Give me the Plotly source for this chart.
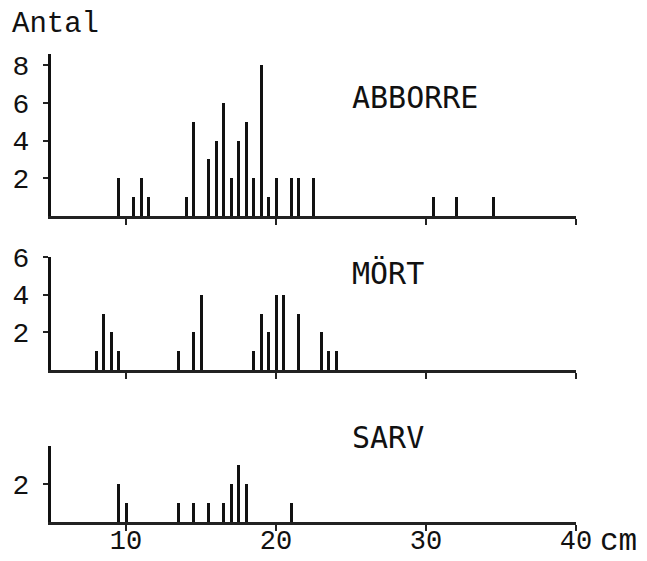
import plotly.graph_objects as go
from plotly.subplots import make_subplots

# ABBORRE (perch): length (cm) and count
abborre_len = [9.5, 10.5, 11, 11.5, 14, 14.5, 15.5, 16, 16.5, 17, 17.5, 18, 18.5, 19, 19.5, 20, 21, 21.5, 22.5, 30.5, 32, 34.5]
abborre_cnt = [2, 1, 2, 1, 1, 5, 3, 4, 6, 2, 4, 5, 2, 8, 1, 2, 2, 2, 2, 1, 1, 1]

# MÖRT (roach)
mort_len = [8, 8.5, 9, 9.5, 13.5, 14.5, 15, 18.5, 19, 19.5, 20, 20.5, 21.5, 23, 23.5, 24]
mort_cnt = [1, 3, 2, 1, 1, 2, 4, 1, 3, 2, 4, 4, 3, 2, 1, 1]

# SARV (rudd)
sarv_len = [9.5, 10, 13.5, 14.5, 15.5, 16.5, 17, 17.5, 18, 21]
sarv_cnt = [2, 1, 1, 1, 1, 1, 2, 3, 2, 1]

species = ["ABBORRE", "MÖRT", "SARV"]
x_ticks = [10, 20, 30, 40]
y_ticks = [[2, 4, 6, 8], [2, 4, 6], [2]]
y_ranges = [[0, 8.6], [0, 6], [0, 4]]

W, H = 647, 561
ML, MR, MT, MB = 51, 71, 54, 39
PH = H - MT - MB
PW = W - ML - MR

def py(p):
    return (H - MB - p) / PH

def px(p):
    return (p - ML) / PW

fig = make_subplots(rows=3, cols=1)

series = [(abborre_len, abborre_cnt), (mort_len, mort_cnt), (sarv_len, sarv_cnt)]
for i, (xs, ys) in enumerate(series):
    fig.add_trace(go.Bar(x=xs, y=ys, width=0.2, marker=dict(color="#111", line=dict(width=0)),
                         showlegend=False), row=i + 1, col=1)

domains = [[py(216), py(54)], [py(370), py(257)], [py(522), py(446)]]

mono = "Liberation Mono"
for i in range(3):
    n = "" if i == 0 else str(i + 1)
    fig.layout["xaxis" + n].update(
        domain=[0, 1], range=[5, 40], showgrid=False, zeroline=False,
        showline=True, linecolor="#222", linewidth=3, mirror=False,
        ticks="outside", ticklen=6, tickwidth=2, tickcolor="#222",
        tickvals=x_ticks, showticklabels=(i == 2), automargin=False,
        ticklabelstandoff=-14,
        tickfont=dict(family=mono, size=27, color="#111"),
        anchor="y" + n)
    fig.layout["yaxis" + n].update(
        domain=domains[i], range=y_ranges[i], showgrid=False, zeroline=False,
        showline=True, linecolor="#111", linewidth=3, automargin=False,
        ticks="outside", ticklen=5, tickwidth=2, tickcolor="#222",
        tickvals=y_ticks[i], ticklabelstandoff=8,
        tickfont=dict(family=mono, size=28, color="#111"),
        anchor="x" + n)

ann = []
lab_y = [97, 273, 437]
for i, s in enumerate(species):
    ann.append(dict(text=s, x=px(350), y=py(lab_y[i]), xref="paper", yref="paper",
                    xanchor="left", yanchor="middle", showarrow=False,
                    font=dict(family="DejaVu Sans Mono", size=30, color="#111")))
ann.append(dict(text="Antal", x=px(10), y=py(24), xref="paper", yref="paper",
                xanchor="left", yanchor="middle", showarrow=False,
                font=dict(family=mono, size=29, color="#111")))
ann.append(dict(text="cm", x=px(598), y=py(541), xref="paper", yref="paper",
                xanchor="left", yanchor="middle", showarrow=False,
                font=dict(family=mono, size=31, color="#111")))

fig.update_layout(width=W, height=H, margin=dict(l=ML, r=MR, t=MT, b=MB, autoexpand=False),
                  paper_bgcolor="white", plot_bgcolor="white", bargap=0,
                  annotations=ann)

fig.write_html("out.html")
